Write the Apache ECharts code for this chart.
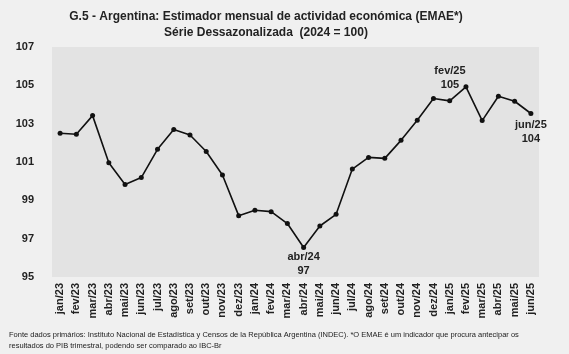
<!DOCTYPE html>
<html>
<head>
    <meta charset="UTF-8">
    <title></title>
    <script type="text/javascript" src="https://cdn.jsdelivr.net/npm/echarts@6/dist/echarts.min.js"></script>
    <style>
        html, body { margin: 0; padding: 0; background: #f0f0f0; }
    </style>
</head>
<body>
<div id="grafico" style="width: 569px; height: 354px;"></div>
<script>
    // meses
    var meses = ['jan/23', 'fev/23', 'mar/23', 'abr/23', 'mai/23', 'jun/23', 'jul/23', 'ago/23', 'set/23', 'out/23',
        'nov/23', 'dez/23', 'jan/24', 'fev/24', 'mar/24', 'abr/24', 'mai/24', 'jun/24', 'jul/24', 'ago/24',
        'set/24', 'out/24', 'nov/24', 'dez/24', 'jan/25', 'fev/25', 'mar/25', 'abr/25', 'mai/25', 'jun/25'];
    // EMAE dessazonalizado (2024 = 100)
    var emae = [102.5, 102.45, 103.42, 100.96, 99.83, 100.19, 101.66, 102.69, 102.41, 101.55,
        100.32, 98.2, 98.48, 98.41, 97.79, 96.54, 97.66, 98.27, 100.63, 101.24,
        101.19, 102.13, 103.18, 104.31, 104.19, 104.92, 103.16, 104.43, 104.17, 103.53];

    var fonte = 'Liberation Sans';
    // rótulos destacados (posição de cada um)
    var rotulos = {
        'abr/24': { show: true, position: 'bottom', distance: 0 },
        'fev/25': { show: true, position: 'top', distance: 2, offset: [-16, 10] },
        'jun/25': { show: true, position: 'bottom', distance: 2 }
    };
    var pontos = [];
    for (var i = 0; i < emae.length; i++) {
        var p = { value: emae[i] };
        if (rotulos[meses[i]]) p.label = rotulos[meses[i]];
        pontos.push(p);
    }

    var myChart = echarts.init(document.getElementById('grafico'));
    myChart.setOption({
        backgroundColor: '#f0f0f0',
        textStyle: { fontFamily: fonte },
        title: [{
            text: 'G.5 - Argentina: Estimador mensual de actividad económica (EMAE*)\nSérie Dessazonalizada  (2024 = 100)',
            left: 261,
            top: 4,
            textAlign: 'center',
            textStyle: { fontSize: 12, fontWeight: 'bold', color: '#222', lineHeight: 16, align: 'center' }
        }, {
            text: 'Fonte dados primários: Instituto Nacional de Estadística y Censos de la República Argentina (INDEC). *O EMAE é um indicador que procura antecipar os\nresultados do PIB trimestral, podendo ser comparado ao IBC-Br',
            left: 4,
            top: 324,
            textStyle: { fontSize: 7.5, fontWeight: 'normal', color: '#222', lineHeight: 11 }
        }],
        grid: {
            left: 52,
            right: 30,
            top: 47,
            bottom: 77,
            show: true,
            backgroundColor: '#e3e3e3',
            borderWidth: 0
        },
        xAxis: {
            type: 'category',
            data: meses,
            axisLine: { show: false },
            axisTick: { show: false },
            axisLabel: { rotate: 90, interval: 0, fontSize: 11, fontWeight: 'bold', color: '#222', margin: 6 }
        },
        yAxis: {
            type: 'value',
            min: 95,
            max: 107,
            interval: 2,
            splitLine: { show: false },
            axisLine: { show: false },
            axisTick: { show: false },
            axisLabel: { fontSize: 11, fontWeight: 'bold', color: '#222', margin: 18 }
        },
        series: [{
            type: 'line',
            data: pontos,
            symbol: 'circle',
            symbolSize: 5,
            lineStyle: { color: '#111', width: 1.6 },
            itemStyle: { color: '#111' },
            label: {
                show: false,
                fontSize: 11,
                fontWeight: 'bold',
                color: '#222',
                lineHeight: 14,
                align: 'center',
                formatter: function (p) {
                    return p.name + '\n' + Math.round(p.value);
                }
            },
            animation: false
        }]
    });
</script>
</body>
</html>
